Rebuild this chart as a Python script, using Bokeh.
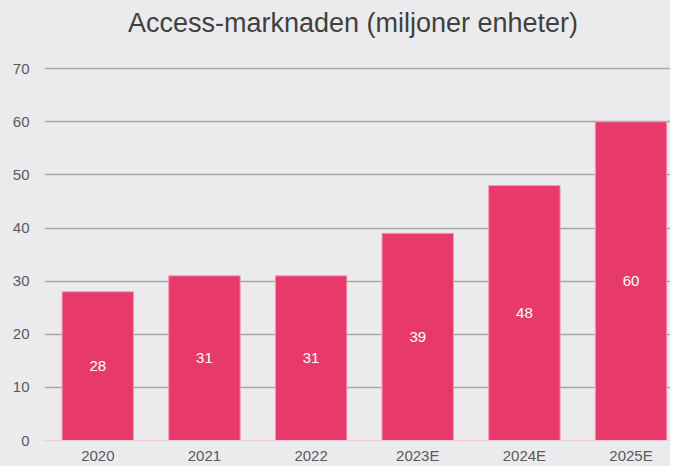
from bokeh.plotting import figure
from bokeh.models import ColumnDataSource, FixedTicker, LabelSet, Range1d, Div
from bokeh.layouts import column
from bokeh.core.properties import value
from bokeh.embed import file_html
from bokeh.resources import INLINE

title_text = "Access-marknaden (miljoner enheter)"
years = ["2020", "2021", "2022", "2023E", "2024E", "2025E"]
values = [28, 31, 31, 39, 48, 60]
y_ticks = [0, 10, 20, 30, 40, 50, 60, 70]

BG = "#ebebed"
BAR = "#e8396b"
FONT = "Liberation Sans"

xpos = [i + 0.5 for i in range(len(years))]

src = ColumnDataSource(dict(
    x=xpos,
    top=values,
    mid=[v / 2 for v in values],
    label=[str(v) for v in values],
))

TITLE_H = 48
title = Div(
    text=(f'<div style="width:670px;height:{TITLE_H}px;box-sizing:border-box;'
          f'padding-top:9.5px;padding-left:36px;text-align:center;white-space:nowrap;'
          f'background:{BG};color:#404040;font-family:\'{FONT}\';font-size:27px;'
          f'line-height:1;">{title_text}</div>'),
    width=670, height=TITLE_H, margin=0,
    styles={"background-color": BG},
)

p = figure(
    x_range=Range1d(0, 5.87), y_range=Range1d(0, 70.4),
    width=670, height=466 - TITLE_H,
    output_backend="svg", toolbar_location=None,
    background_fill_color=BG, border_fill_color=BG,
    outline_line_color=None,
    min_border_left=44, min_border_right=0, min_border_top=66 - TITLE_H, min_border_bottom=0,
)

p.vbar(x="x", top="top", width=0.67, source=src,
       fill_color=BAR, line_color="#f29bb4", line_width=1)

labels = LabelSet(x="x", y="mid", text="label", source=src,
                  text_align="center", text_baseline="middle",
                  text_color="white", text_font_size="15px",
                  text_font=value(FONT))
p.add_layout(labels)

p.xgrid.grid_line_color = None
p.ygrid.grid_line_color = "#a6a6a6"
p.ygrid.grid_line_width = 1.5
p.yaxis.ticker = FixedTicker(ticks=y_ticks)
p.xaxis.ticker = FixedTicker(ticks=xpos)
p.xaxis.major_label_overrides = {x: y for x, y in zip(xpos, years)}

for ax in (p.xaxis, p.yaxis):
    ax.major_tick_line_color = None
    ax.minor_tick_line_color = None
    ax.major_label_text_font = FONT
    ax.major_label_text_font_size = "15px"
    ax.major_label_text_color = "#595959"

p.yaxis.axis_line_color = None
p.yaxis.major_label_standoff = 9
p.xaxis.axis_line_color = "#f7c9d6"
p.xaxis.major_label_standoff = 0

layout = column(title, p, spacing=0, styles={"background-color": BG})

open("out.html", "w").write(file_html(layout, INLINE))
